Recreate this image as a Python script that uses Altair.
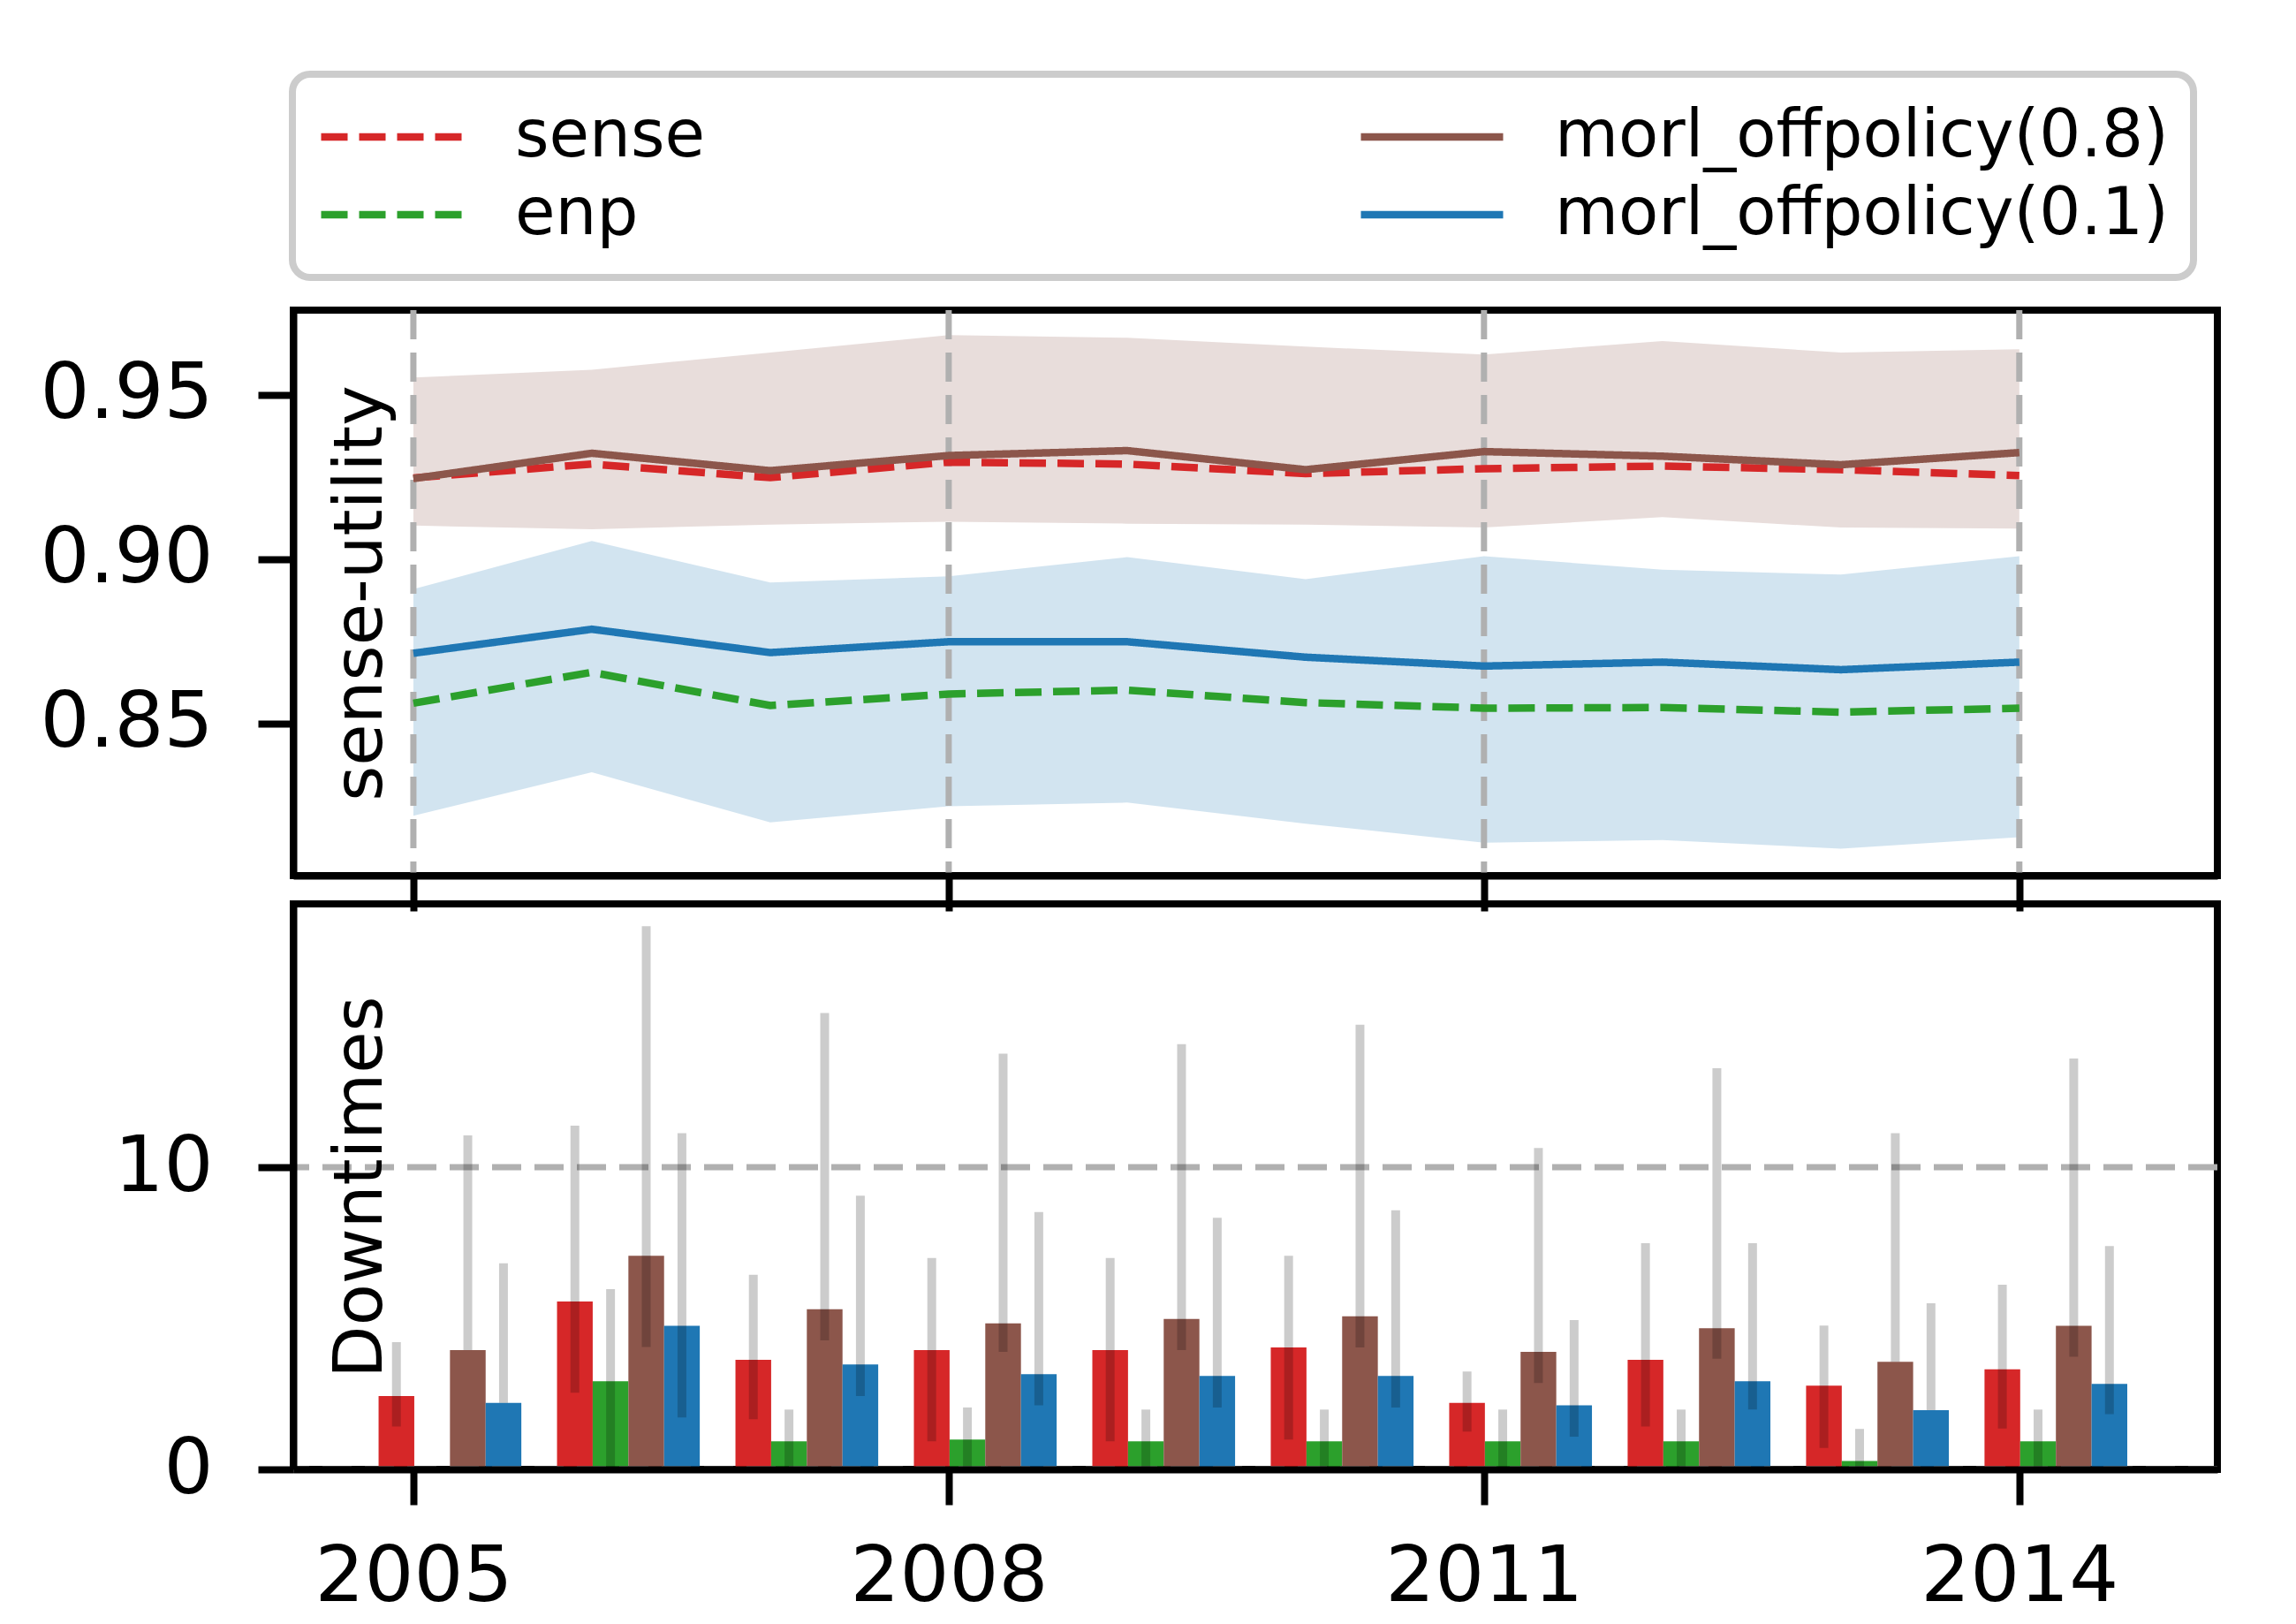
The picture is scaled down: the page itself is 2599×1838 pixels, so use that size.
import altair as alt
import pandas as pd

# ---------------- data ----------------
years = list(range(2005, 2015))

# legend entries are laid out column by column
series_names = ["sense", "enp", "morl_offpolicy(0.8)", "morl_offpolicy(0.1)"]
series_colors = ["#d62728", "#2ca02c", "#8c564b", "#1f77b4"]

# sense-utility (top panel)
sense_util = [0.9247, 0.9289, 0.9248, 0.9295, 0.9289, 0.9260, 0.9275, 0.9283, 0.9272, 0.9254]
enp_util = [0.8562, 0.8656, 0.8555, 0.8590, 0.8602, 0.8564, 0.8547, 0.8549, 0.8535, 0.8547]
morl08_util = [0.9245, 0.9322, 0.9269, 0.9315, 0.9330, 0.9272, 0.9327, 0.9313, 0.9287, 0.9324]
morl08_util_lo = [0.9102, 0.9091, 0.9105, 0.9114, 0.9108, 0.9105, 0.9096, 0.9128, 0.9096, 0.9093]
morl08_util_hi = [0.9552, 0.9576, 0.9628, 0.9681, 0.9673, 0.9646, 0.9622, 0.9663, 0.9628, 0.9638]
morl01_util = [0.8714, 0.8787, 0.8716, 0.8749, 0.8749, 0.8702, 0.8675, 0.8687, 0.8664, 0.8687]
morl01_util_lo = [0.8220, 0.8352, 0.8200, 0.8249, 0.8260, 0.8196, 0.8138, 0.8146, 0.8120, 0.8155]
morl01_util_hi = [0.8909, 0.9055, 0.8929, 0.8948, 0.9006, 0.8939, 0.9009, 0.8968, 0.8953, 0.9009]

# Downtimes (bottom panel): mean, lower and upper end of the error line
sense_down = [2.43, 5.56, 3.63, 3.95, 3.95, 4.04, 2.20, 3.63, 2.77, 3.31]
sense_down_lo = [1.42, 2.54, 1.66, 0.93, 0.93, 0.99, 1.25, 1.42, 0.71, 1.35]
sense_down_hi = [4.21, 11.38, 6.44, 7.00, 7.00, 7.07, 3.24, 7.49, 4.76, 6.11]
enp_down = [0.00, 2.92, 0.93, 0.99, 0.93, 0.93, 0.93, 0.93, 0.28, 0.93]
enp_down_lo = [0.00, 0.00, 0.00, 0.00, 0.00, 0.00, 0.00, 0.00, 0.00, 0.00]
enp_down_hi = [0.00, 5.97, 1.98, 2.05, 1.98, 1.98, 1.98, 1.98, 1.34, 1.98]
morl08_down = [3.95, 7.07, 5.30, 4.83, 4.98, 5.07, 3.89, 4.67, 3.56, 4.75]
morl08_down_lo = [3.95, 4.05, 4.27, 3.89, 3.95, 4.04, 2.86, 3.66, 3.56, 3.73]
morl08_down_hi = [11.06, 17.98, 15.11, 13.76, 14.08, 14.72, 10.64, 13.28, 11.13, 13.60]
morl01_down = [2.20, 4.75, 3.47, 3.15, 3.09, 3.09, 2.12, 2.92, 1.96, 2.83]
morl01_down_lo = [2.20, 1.72, 2.43, 2.12, 2.05, 2.05, 1.08, 1.98, 1.96, 1.83]
morl01_down_hi = [6.82, 11.13, 9.06, 8.52, 8.33, 8.58, 4.94, 7.49, 5.50, 7.39]

x_ticks = [2005, 2008, 2011, 2014]
y_ticks_top = [0.85, 0.90, 0.95]
y_ticks_bottom = [0, 10]

# ---------------- layout / style constants ----------------
W, H = 2178, 640
FONT = "DejaVu Sans"
TICK_FS = 88
LABEL_FS = 77
LEGEND_FS = 74
x_domain = [2004.327, 2015.11]
y_domain_top = [0.8038, 0.9757]
y_domain_bottom = [0, 18.72]
bar_offsets = {"sense": -0.095, "enp": 0.105, "morl_offpolicy(0.8)": 0.305, "morl_offpolicy(0.1)": 0.505}
bar_width = 0.2
dash_style = [30, 13]
solid_style = [1, 0]
series_dashes = [dash_style, dash_style, solid_style, solid_style]

# ---------------- tables ----------------
line_rows = []
for name, vals in [("sense", sense_util), ("enp", enp_util),
                   ("morl_offpolicy(0.8)", morl08_util), ("morl_offpolicy(0.1)", morl01_util)]:
    for y, v in zip(years, vals):
        line_rows.append({"year": y, "series": name, "value": v})
lines_df = pd.DataFrame(line_rows)

band08_df = pd.DataFrame({"year": years, "lo": morl08_util_lo, "hi": morl08_util_hi})
band01_df = pd.DataFrame({"year": years, "lo": morl01_util_lo, "hi": morl01_util_hi})

bar_rows = []
for name, m, lo, hi in [("sense", sense_down, sense_down_lo, sense_down_hi),
                        ("enp", enp_down, enp_down_lo, enp_down_hi),
                        ("morl_offpolicy(0.8)", morl08_down, morl08_down_lo, morl08_down_hi),
                        ("morl_offpolicy(0.1)", morl01_down, morl01_down_lo, morl01_down_hi)]:
    for y, a, b, c in zip(years, m, lo, hi):
        xc = y + bar_offsets[name]
        bar_rows.append({"year": y, "series": name, "value": a, "lo": b, "hi": c,
                         "xc": xc, "xl": xc - bar_width / 2, "xr": xc + bar_width / 2})
bars_df = pd.DataFrame(bar_rows)

xgrid_df = pd.DataFrame({"year": x_ticks})
ygrid_df = pd.DataFrame({"v": y_ticks_bottom})

# ---------------- scales / axes ----------------
color_scale = alt.Scale(domain=series_names, range=series_colors)
dash_scale = alt.Scale(domain=series_names, range=series_dashes)
x_scale = alt.Scale(domain=x_domain, nice=False, zero=False)

common_axis = dict(tickSize=40, tickWidth=8, tickColor="black", domain=True, domainWidth=8,
                   domainColor="black", grid=False, labelFont=FONT, labelFontSize=TICK_FS,
                   labelColor="black", labelLimit=1000, zindex=1)

x_axis_top = alt.Axis(values=x_ticks, labels=False, title=None, **common_axis)
x_axis_bottom = alt.Axis(values=x_ticks, title=None, format="d", labelPadding=38, **common_axis)

def y_axis(title, values, fmt):
    return alt.Axis(values=values, format=fmt, title=title, labelPadding=51,
                    titleX=99, titleY=H / 2, titleAngle=270, titleAlign="center",
                    titleBaseline="alphabetic", titleFont=FONT, titleFontSize=LABEL_FS,
                    titleFontWeight="normal", titleColor="black", **common_axis)

y_axis_top = y_axis("sense-utility", y_ticks_top, ".2f")
y_axis_bottom = y_axis("Downtimes", y_ticks_bottom, "d")
y_scale_top = alt.Scale(domain=y_domain_top, nice=False, zero=False)
y_scale_bottom = alt.Scale(domain=y_domain_bottom, nice=False)

def XT(field):
    return alt.X(field, type="quantitative", scale=x_scale, axis=x_axis_top)

def YT(field):
    return alt.Y(field, type="quantitative", scale=y_scale_top, axis=y_axis_top, stack=None)

def XB(field):
    return alt.X(field, type="quantitative", scale=x_scale, axis=x_axis_bottom)

def YB(field):
    return alt.Y(field, type="quantitative", scale=y_scale_bottom, axis=y_axis_bottom, stack=None)

legend = alt.Legend(title=None, orient="none", legendX=-1, legendY=-267, columns=2,
                    values=series_names, clipHeight=86,
                    columnPadding=737, rowPadding=2, symbolType="stroke", symbolSize=25921,
                    symbolStrokeWidth=8.5, labelFont=FONT, labelFontSize=LEGEND_FS, labelColor="black",
                    labelOffset=54, labelLimit=3000, padding=28, strokeColor="#cccccc",
                    fillColor="white", cornerRadius=20)

# ---------------- top panel ----------------
band08 = alt.Chart(band08_df).mark_area(color="#8c564b", opacity=0.2).encode(
    x=XT("year"), y=YT("lo"), y2="hi")
band01 = alt.Chart(band01_df).mark_area(color="#1f77b4", opacity=0.2).encode(
    x=XT("year"), y=YT("lo"), y2="hi")
xgrid = alt.Chart(xgrid_df).mark_rule(color="#b0b0b0", strokeWidth=7, strokeDash=[33, 15]).encode(
    x=XT("year"))
lines = alt.Chart(lines_df).mark_line(strokeWidth=8.5).encode(
    x=XT("year"), y=YT("value"),
    color=alt.Color("series:N", scale=color_scale, legend=legend),
    strokeDash=alt.StrokeDash("series:N", scale=dash_scale, legend=legend),
    order=alt.Order("year:Q"))

top = alt.layer(band08, band01, xgrid, lines).properties(width=W, height=H)

# ---------------- bottom panel ----------------
bars = alt.Chart(bars_df).mark_bar().encode(
    x=XB("xl"), x2="xr", y=YB("value"), y2=alt.datum(0),
    color=alt.Color("series:N", scale=color_scale, legend=None))
ygrid = alt.Chart(ygrid_df).mark_rule(color="#b0b0b0", strokeWidth=7, strokeDash=[33, 15]).encode(
    y=YB("v"))
errs = alt.Chart(bars_df).mark_rule(color="black", opacity=0.2, strokeWidth=10).encode(
    x=XB("xc"), y=YB("lo"), y2="hi")

bottom = alt.layer(bars, ygrid, errs).properties(width=W, height=H)

chart = alt.vconcat(top, bottom, spacing=32, bounds="flush").properties(
    padding={"left": 33, "top": 72, "right": 0, "bottom": 0},
    background="white",
).configure(font=FONT).configure_view(stroke="black", strokeWidth=8).configure_legend(strokeWidth=8)

chart.save("out.html", embed_options={"renderer": "svg", "actions": False})
